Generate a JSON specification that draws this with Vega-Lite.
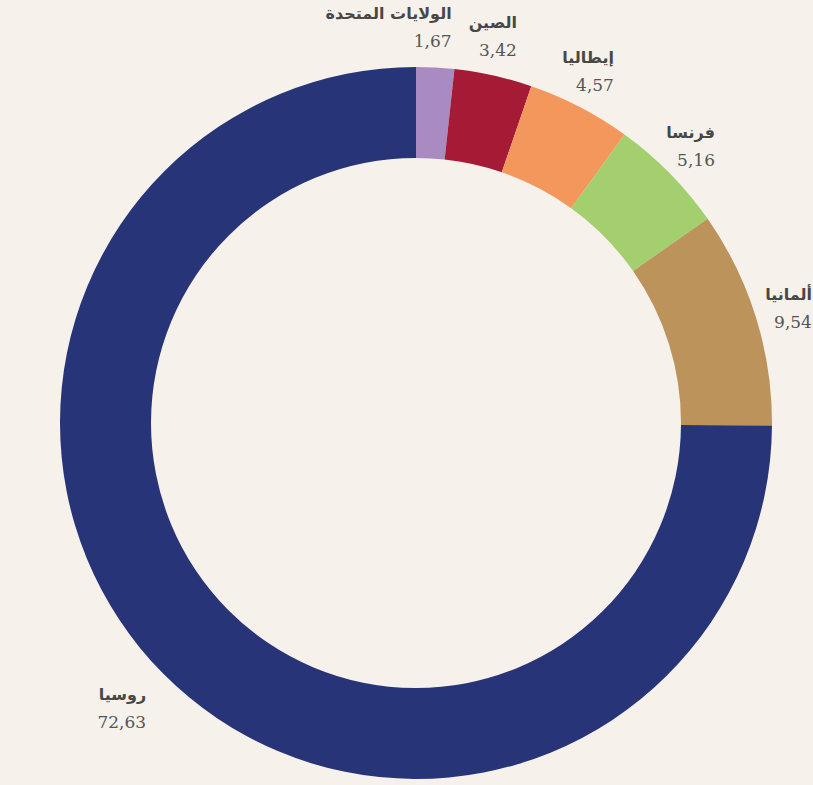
{
  "$schema": "https://vega.github.io/schema/vega-lite/v6.json",
  "autosize": {"type": "none"},
  "width": 794,
  "height": 724,
  "padding": {"left": 19, "top": 61, "right": 0, "bottom": 0},
  "background": "#f6f1eb",
  "config": {"view": {"stroke": null}},
  "data": {
    "values": [
      {"country": "الولايات المتحدة", "value": 1.67, "label": "1,67"},
      {"country": "الصين", "value": 3.42, "label": "3,42"},
      {"country": "إيطاليا", "value": 4.57, "label": "4,57"},
      {"country": "فرنسا", "value": 5.16, "label": "5,16"},
      {"country": "ألمانيا", "value": 9.54, "label": "9,54"},
      {"country": "روسيا", "value": 72.63, "label": "72,63"}
    ]
  },
  "encoding": {
    "theta": {"field": "value", "type": "quantitative", "stack": true},
    "order": {"field": "value", "type": "quantitative", "sort": "ascending"},
    "color": {
      "field": "country",
      "type": "nominal",
      "legend": null,
      "scale": {
        "domain": ["الولايات المتحدة", "الصين", "إيطاليا", "فرنسا", "ألمانيا", "روسيا"],
        "range": ["#a98bc1", "#a51b36", "#f4975c", "#a3cf6e", "#bb935b", "#283478"]
      }
    }
  },
  "layer": [
    {
      "mark": {"type": "arc", "outerRadius": 356, "innerRadius": 265}
    },
    {
      "mark": {"type": "text", "radius": 400, "align": "right", "baseline": "middle", "dx": 14, "dy": -9.5, "font": "DejaVu Sans", "fontWeight": "bold", "fontSize": 16, "color": "#474747"},
      "encoding": {"text": {"field": "country"}, "color": {"value": "#474747"}}
    },
    {
      "mark": {"type": "text", "radius": 400, "align": "right", "baseline": "middle", "dx": 14, "dy": 18.5, "font": "DejaVu Serif", "fontSize": 17, "color": "#555555"},
      "encoding": {"text": {"field": "label"}, "color": {"value": "#555555"}}
    }
  ]
}
